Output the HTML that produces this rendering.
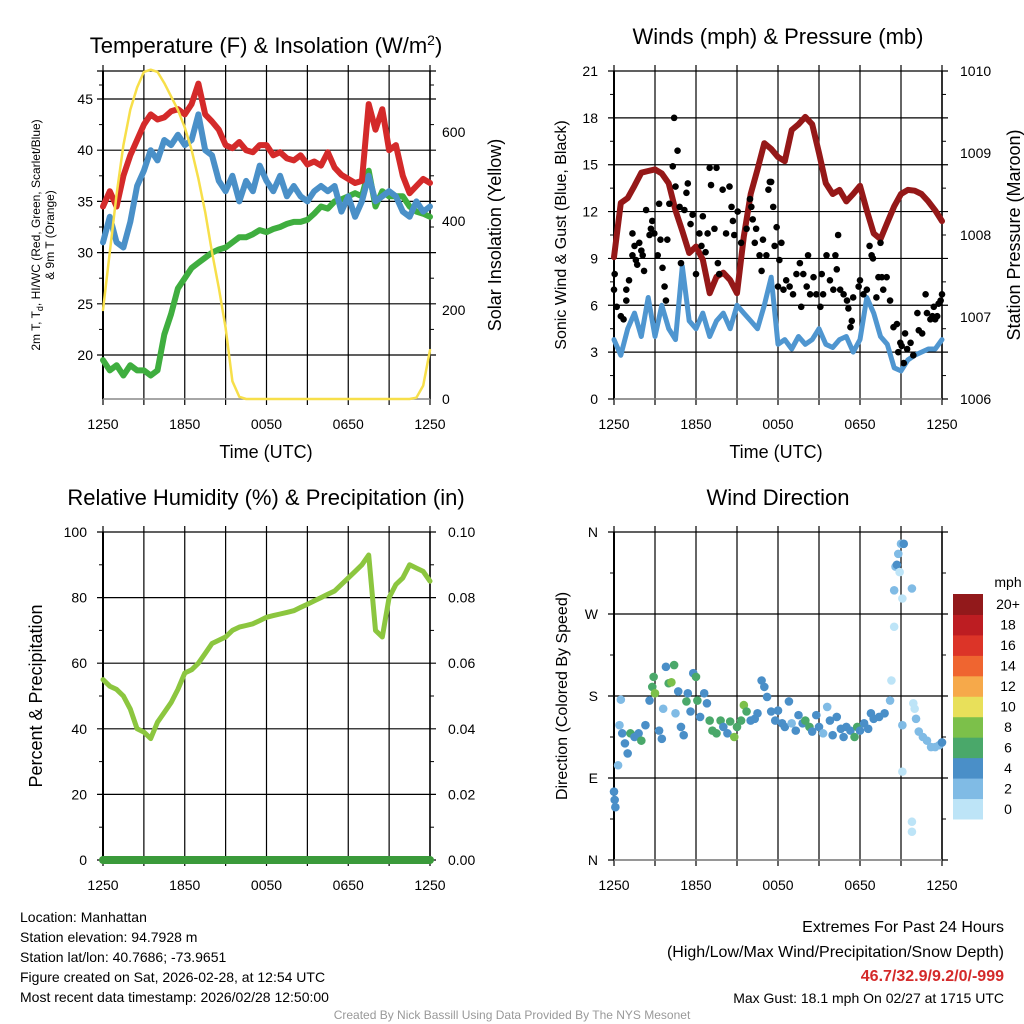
<!DOCTYPE html>
<html><head><meta charset="utf-8"><style>
html,body{margin:0;padding:0;background:#fff;}
svg{display:block;font-family:"Liberation Sans",Arial,sans-serif;}
</style></head><body>
<svg id="c" width="1024" height="1024" viewBox="0 0 1024 1024" xmlns="http://www.w3.org/2000/svg"></svg>
<script>
// ---------- data ----------
const hours = [0,0.5,1,1.5,2,2.5,3,3.5,4,4.5,5,5.5,6,6.5,7,7.5,8,8.5,9,9.5,10,10.5,11,11.5,12,12.5,13,13.5,14,14.5,15,15.5,16,16.5,17,17.5,18,18.5,19,19.5,20,20.5,21,21.5,22,22.5,23,23.5,24];
const timeTickLabels = ["1250","1850","0050","0650","1250"];
const tempRed = [34.5,36,34.5,37.5,39.5,41,42.5,43.5,43,43.2,43.8,44,43.5,44.5,46.5,43.5,42.8,42,40.5,40.2,40.8,40,39.8,40.5,40.5,39.5,39.8,39.2,39,39.5,38.6,38.9,38.5,39.8,38.3,37.6,37.2,36.8,37,44.5,42,44,40,40.5,37.5,35.8,36.5,37.2,36.8];
const tempBlue = [31,33.5,31,30.5,33,36.5,38,40,39,41,40.5,41.5,40.5,41,43.5,40,39.5,37,36,37.5,35,37,36,38.5,37,36,37.5,35.5,36.5,35.5,35,36,36.5,36,36.5,34,35.5,33.5,35,37.5,35,35.5,36,35.5,34,33.5,35,34,34.5];
const dewGreen = [19.5,18.5,19,18,19,18.5,18.5,18,18.5,22,24,26.5,27.5,28.5,29,29.5,30,30.3,30.5,31,31.5,31.5,31.8,32.2,32,32.3,32.5,32.8,33,33,33.2,33.8,34.5,34.3,35,35.2,35.5,35.8,35.5,38,34.5,36,35.5,35.5,35.5,34.5,34,33.8,33.5];
const solar = [200,330,460,570,650,700,735,740,735,710,680,650,610,560,495,420,330,250,160,40,5,0,0,0,0,0,0,0,0,0,0,0,0,0,0,0,0,0,0,0,0,0,0,0,0,0,3,30,110];
const tempTicks = [20,25,30,35,40,45];
const solarTicks = [0,200,400,600];

const windSpeed = [3.8,2.8,4.5,5.5,4,6.5,4,6,4.5,3.8,8.5,5,4.5,5.5,4,5,5.5,4.5,6,5.5,5,4.5,6,7.8,3.5,3.8,3.2,4,3.5,3.8,4.5,3.5,3.3,3.8,4,3,3.8,6.5,5.5,4,3.5,2,1.8,2.5,2.8,3,3.2,3.2,3.8];
const pressure = [1007.73,1008.39,1008.45,1008.6,1008.76,1008.78,1008.8,1008.75,1008.63,1008.3,1008.05,1007.78,1007.86,1007.7,1007.29,1007.49,1007.54,1007.45,1007.29,1007.98,1008.5,1008.8,1009.12,1009.05,1008.95,1008.9,1009.28,1009.35,1009.44,1009.35,1009.0,1008.63,1008.5,1008.55,1008.41,1008.5,1008.6,1008.3,1008.02,1007.95,1008.15,1008.35,1008.5,1008.55,1008.54,1008.5,1008.41,1008.3,1008.17];
const gustHours = [0,0.05,0.2,0.5,0.7,0.9,0.9,1.1,1.35,1.35,1.5,1.6,1.7,1.85,2,2.1,2.2,2.35,2.6,2.7,2.8,2.95,3.2,3.3,3.4,3.55,3.7,3.8,3.9,4.05,4.3,4.4,4.5,4.65,4.8,4.9,5.15,5.3,5.4,5.6,5.75,6,6.25,6.4,6.5,6.7,6.85,7,7.1,7.35,7.5,7.6,7.7,7.95,8.2,8.45,8.6,8.7,8.8,9.05,9.3,9.7,9.95,10.05,10.15,10.3,10.4,10.65,10.8,10.9,11.15,11.3,11.4,11.5,11.65,11.75,11.9,12,12.1,12.25,12.4,12.6,12.85,13.1,13.35,13.6,13.7,13.85,14.1,14.2,14.35,14.6,14.8,15.1,15.2,15.3,15.55,15.8,16.05,16.2,16.3,16.4,16.55,16.8,17.05,17.15,17.3,17.4,17.5,17.9,18,18.25,18.5,18.7,18.85,18.95,19.2,19.35,19.5,19.6,19.7,19.95,20.2,20.45,20.7,20.8,20.95,21.05,21.2,21.3,21.45,21.7,21.9,22.2,22.3,22.55,22.8,22.9,23.15,23.3,23.4,23.5,23.65,23.75,23.9,24];
const gustValues = [7,8,5.9,5.3,5.1,7,6.3,7.6,10.6,9.2,9.8,8.9,8.6,10,9.5,9.2,8.2,12.1,10.5,10.9,11.4,10.6,9.2,12.5,10.2,8.4,7.2,6.3,10.2,12.5,14.9,18,13.6,15.9,12.3,8.7,12.1,13.2,13.8,11.2,11.8,8,10.6,9.8,11.7,9.4,10.6,14.8,13.7,10.9,14.8,8.7,8,13.4,10.6,13.6,12.3,11.4,10.5,12,10,10.9,12.8,12.3,11.5,10,10.9,9.2,8.2,10.2,9.2,13.4,13.9,13.9,12.3,9.8,11,7.2,8.9,10,7,7.6,7.2,6.7,8,8.7,5.9,8,7.2,9.2,6.7,7.8,6.7,5.9,8,6.7,9.2,7.6,7,9.2,8.3,10.5,7,6.7,6.3,5.8,4.6,5,6.5,7.2,7.6,6.7,7,9.8,9.2,9,6.5,7.8,10,7.8,7,7.8,6.3,4.6,4.8,3,3.6,3.4,2.3,4.2,3.2,3.6,2.8,5.5,4.4,4.2,6.7,5.5,5.1,5.3,5.9,5.1,5.3,6.1,6.3,6.7];
const windTicks = [0,3,6,9,12,15,18,21];
const pressTicks = [1006,1007,1008,1009,1010];

const rh = [55,53,52,50,46,40,39,37,42,45,48,52,57,58,60,63,66,67,68,70,71,71.5,72,73,74,74.5,75,75.5,76,77,78,79,80,81,82,84,86,88,90,93,70,68,80,84,86,90,89,88,85];
const precip = [0,0,0,0,0,0,0,0,0,0,0,0,0,0,0,0,0,0,0,0,0,0,0,0,0,0,0,0,0,0,0,0,0,0,0,0,0,0,0,0,0,0,0,0,0,0,0,0,0];
const rhTicks = [0,20,40,60,80,100];
const precipTickLabels = ["0.00","0.02","0.04","0.06","0.08","0.10"];

const dirHours = [0,0.05,0.1,0.3,0.4,0.5,0.6,0.8,1,1.2,1.5,1.8,2,2.3,2.6,2.8,2.9,3,3.3,3.5,3.6,3.8,4,4.2,4.4,4.5,4.7,4.9,5.1,5.3,5.4,5.6,5.8,6,6.1,6.3,6.6,6.8,7,7.2,7.5,7.8,8,8.3,8.5,8.8,9,9.3,9.5,9.7,10,10.3,10.5,10.8,11,11.2,11.5,11.8,12,12.3,12.5,12.8,13,13.3,13.5,13.8,14,14.3,14.5,14.8,15,15.3,15.6,15.8,16,16.3,16.6,16.8,17,17.3,17.6,17.8,18,18.3,18.6,18.8,19,19.4,19.8,20.2,20.3,20.5,20.5,20.6,20.7,20.8,21.0,21.2,21.1,20.9,21.1,21.1,21.8,21.8,21.8,21.9,22.0,22.1,22.3,22.6,22.9,23.2,23.5,23.8,24];
const dirValues = [75,66,58,104,148,176,139,128,117,139,135,139,131,148,175,190,201,183,142,133,166,212,194,195,214,161,185,146,137,174,183,163,205,201,175,157,183,172,153,142,139,153,146,139,152,135,146,153,170,163,153,155,161,197,190,179,163,153,164,150,146,174,150,142,159,150,153,146,141,159,146,139,168,153,137,157,144,135,146,142,135,146,142,150,144,161,155,157,161,175,197,256,296,322,324,336,347,347,287,316,148,97,42,31,298,172,166,155,141,135,131,124,124,126,129];
const dirSpeeds = [4,4,4,2,2,2,4,4,4,6,4,4,6,4,4,6,6,8,4,4,2,4,6,8,6,2,4,4,4,6,4,4,4,6,6,4,4,4,6,6,6,6,4,4,6,8,6,6,8,6,4,4,4,4,4,4,4,4,4,4,4,4,2,4,4,4,6,6,4,4,4,2,2,4,4,4,4,4,4,4,6,6,4,4,4,4,4,4,4,2,0,0,2,2,4,2,2,4,0,0,2,0,0,0,2,0,0,2,2,2,2,2,2,2,4];
const dirTickLabels = ["N","E","S","W","N"];
const speedLevels = ["0","2","4","6","8","10","12","14","16","18","20+"];
const speedColors = ["#bde4f7","#80bbe5","#4a8fc8","#4aa86a","#7cc04a","#e8e05a","#f6a94a","#ef6530","#dc3428","#bd1d22","#92191b"];

// ---------- helpers ----------
const NS="http://www.w3.org/2000/svg";
const svg=document.getElementById('c');
function mk(tag,attrs,parent){const e=document.createElementNS(NS,tag);for(const k in attrs)e.setAttribute(k,attrs[k]);(parent||svg).appendChild(e);return e;}
function txt(s,x,y,size,anchor,parent,extra){const t=mk('text',Object.assign({x:x,y:y,'font-size':size,'text-anchor':anchor||'middle',fill:'#000'},extra||{}),parent);t.textContent=s;return t;}

function panel(name,L,T,R,B){
  const g=mk('g',{});
  
  
  return {g:g,L:L,T:T,R:R,B:B,
    x:h=>L+h/24*(R-L)};
}
function frame(p,hGridYs){
  const g=mk('g',{},p.g);
  
  
  for(let i=0;i<=8;i++){const x=p.x(i*3);mk('line',{x1:x,y1:p.T-6,x2:x,y2:p.B+6,stroke:'#000','stroke-width':1.2},g);}
  hGridYs.forEach(y=>mk('line',{x1:p.L-6,y1:y,x2:p.R+6,y2:y,stroke:'#000','stroke-width':1.2},g));
  // minor ticks
  if(hGridYs.length>1){
    const s=[...hGridYs].sort((a,b)=>a-b);
    for(let i=0;i<s.length-1;i++){const m=(s[i]+s[i+1])/2;
      mk('line',{x1:p.L-4,y1:m,x2:p.L,y2:m,stroke:'#000','stroke-width':1},g);
      mk('line',{x1:p.R,y1:m,x2:p.R+4,y2:m,stroke:'#000','stroke-width':1},g);}
  }
  mk('line',{x1:p.L,y1:p.T,x2:p.L,y2:p.B,stroke:'#000','stroke-width':2},g);
  mk('line',{x1:p.R,y1:p.T,x2:p.R,y2:p.B,stroke:'#000','stroke-width':1.5},g);
  mk('line',{x1:p.L,y1:p.B,x2:p.R,y2:p.B,stroke:'#888','stroke-width':1.5},g);
  const tl=mk('g',{},p.g);
  
  
  timeTickLabels.forEach((s,i)=>txt(s,p.x(i*6),p.B+30,14,'middle',tl));
}
function series(p,xs,ys,yf,color,w,name){
  const d=xs.map((h,i)=>(i?'L':'M')+p.x(h).toFixed(1)+','+yf(ys[i]).toFixed(1)).join('');
  const e=mk('path',{d:d,fill:'none',stroke:color,'stroke-width':w,'stroke-linejoin':'round','stroke-linecap':'round'},p.g);
  
  
  return e;
}

// ---------- Panel 1: Temperature ----------
(function(){
  const p=panel('temperature-panel',103,71,430,399);
  const yT=v=>355-(v-20)*10.24;
  const yS=v=>399-v/200*89;
  frame(p,tempTicks.map(yT).concat([71]));
  series(p,hours,dewGreen,yT,'#3fae3f',6,'dewpoint-line');
  series(p,hours,tempBlue,yT,'#4a90c8',6,'heat-index-wind-chill-line');
  series(p,hours,tempRed,yT,'#d42a2a',6,'temperature-line');
  series(p,hours,solar,yS,'#f7df4a',2.5,'solar-insolation-line');
  const la=mk('g',{},p.g);
  tempTicks.forEach(v=>txt(String(v),p.L-10,yT(v)+5,14,'end',la));
  const ra=mk('g',{},p.g);
  solarTicks.forEach(v=>txt(String(v),p.R+12,yS(v)+5,14,'start',ra));
  const t=txt('',266,53,22,'middle',p.g);t.innerHTML='Temperature (F) &amp; Insolation (W/m<tspan dy="-8" font-size="14">2</tspan><tspan dy="8">)</tspan>';
  
  const xl=txt('Time (UTC)',266,458,18,'middle',p.g);
  const yl=mk('text',{transform:'translate(40,235) rotate(-90)','font-size':12,'text-anchor':'middle'},p.g);
  yl.innerHTML='2m T, T<tspan dy="3" font-size="9">d</tspan><tspan dy="-3">, HI/WC (Red, Green, Scarlet/Blue)</tspan>';
  
  const yl2=txt('& 9m T (Orange)',0,0,12,'middle',p.g,{transform:'translate(54,235) rotate(-90)'});
  
  const yr=txt('Solar Insolation (Yellow)',0,0,18,'middle',p.g,{transform:'translate(501,235) rotate(-90)'});
  
})();

// ---------- Panel 2: Winds ----------
(function(){
  const p=panel('winds-panel',614,71,942,399);
  const yW=v=>399-v/21*328;
  const yP=v=>399-(v-1006)*82;
  frame(p,windTicks.map(yW));
  series(p,hours,windSpeed,yW,'#4f96d0',5,'wind-speed-line');
  series(p,hours,pressure,yP,'#951818',6,'pressure-line');
  const dg=mk('g',{},p.g);
  gustHours.forEach((h,i)=>{const c=mk('circle',{cx:p.x(h),cy:yW(gustValues[i]),r:3.3,fill:'#000'},dg);
    
    });
  const la=mk('g',{},p.g);
  windTicks.forEach(v=>txt(String(v),p.L-16,yW(v)+5,14,'end',la));
  const ra=mk('g',{},p.g);
  pressTicks.forEach(v=>txt(String(v),p.R+18,yP(v)+5,14,'start',ra));
  const t=txt('Winds (mph) & Pressure (mb)',778,44,22,'middle',p.g);
  const xl=txt('Time (UTC)',776,458,18,'middle',p.g);
  const yl=txt('Sonic Wind & Gust (Blue, Black)',0,0,16,'middle',p.g,{transform:'translate(566,235) rotate(-90)'});
  
  const yr=txt('Station Pressure (Maroon)',0,0,18,'middle',p.g,{transform:'translate(1020,235) rotate(-90)'});
  
})();

// ---------- Panel 3: RH ----------
(function(){
  const p=panel('humidity-panel',103,532,430,860);
  const yR=v=>860-v/100*328;
  const yPr=v=>860-v/0.1*328;
  frame(p,rhTicks.map(yR));
  series(p,hours,rh,yR,'#8cc63f',5,'relative-humidity-line');
  series(p,hours,precip,yPr,'#3a9a3a',8,'precipitation-line');
  const la=mk('g',{},p.g);
  rhTicks.forEach(v=>txt(String(v),p.L-16,yR(v)+5,14,'end',la));
  const ra=mk('g',{},p.g);
  precipTickLabels.forEach((s,i)=>txt(s,p.R+18,yR(i*20)+5,14,'start',ra));
  const t=txt('Relative Humidity (%) & Precipitation (in)',266,505,22,'middle',p.g);
  const yl=txt('Percent & Precipitation',0,0,18,'middle',p.g,{transform:'translate(42,696) rotate(-90)'});
  
})();

// ---------- Panel 4: Wind Direction ----------
(function(){
  const p=panel('wind-direction-panel',614,532,942,860);
  const yD=v=>860-v/360*328;
  frame(p,[0,90,180,270,360].map(yD));
  const dg=mk('g',{},p.g);
  dirHours.forEach((h,i)=>{const idx=Math.min(10,Math.floor(dirSpeeds[i]/2));
    const c=mk('circle',{cx:p.x(h),cy:yD(dirValues[i]),r:4.3,fill:speedColors[idx]},dg);
    
    });
  const la=mk('g',{},p.g);
  dirTickLabels.forEach((s,i)=>txt(s,p.L-16,yD(i*90)+5,14,'end',la));
  const t=txt('Wind Direction',778,505,22,'middle',p.g);
  const yl=txt('Direction (Colored By Speed)',0,0,16,'middle',p.g,{transform:'translate(567,696) rotate(-90)'});
  
  const lg=mk('g',{},p.g);
  const bh=225/11;
  speedLevels.forEach((s,i)=>{const y=819-(i+1)*bh;
    const r=mk('rect',{x:953,y:y,width:30,height:bh+0.5,fill:speedColors[i]},lg);
    
    
    txt(s,1008,y+bh/2+5,14,'middle',lg);});
  txt('mph',1008,587,14,'middle',lg);
})();

// ---------- footer ----------
const ft=mk('g',{});
["Location: Manhattan","Station elevation: 94.7928 m","Station lat/lon: 40.7686; -73.9651","Figure created on Sat, 2026-02-28, at 12:54 UTC","Most recent data timestamp: 2026/02/28 12:50:00"].forEach((s,i)=>txt(s,20,922+i*20,14,'start',ft));
const ex=mk('g',{});
txt('Extremes For Past 24 Hours',1004,932,16,'end',ex);
txt('(High/Low/Max Wind/Precipitation/Snow Depth)',1004,957,16,'end',ex);
txt('46.7/32.9/9.2/0/-999',1004,981,16,'end',ex,{fill:'#d42a2a','font-weight':'bold'});
txt('Max Gust: 18.1 mph On 02/27 at 1715 UTC',1004,1003,14,'end',ex);
const cr=txt('Created By Nick Bassill Using Data Provided By The NYS Mesonet',512,1019,12,'middle',null,{fill:'#999'});

</script>
</body></html>
